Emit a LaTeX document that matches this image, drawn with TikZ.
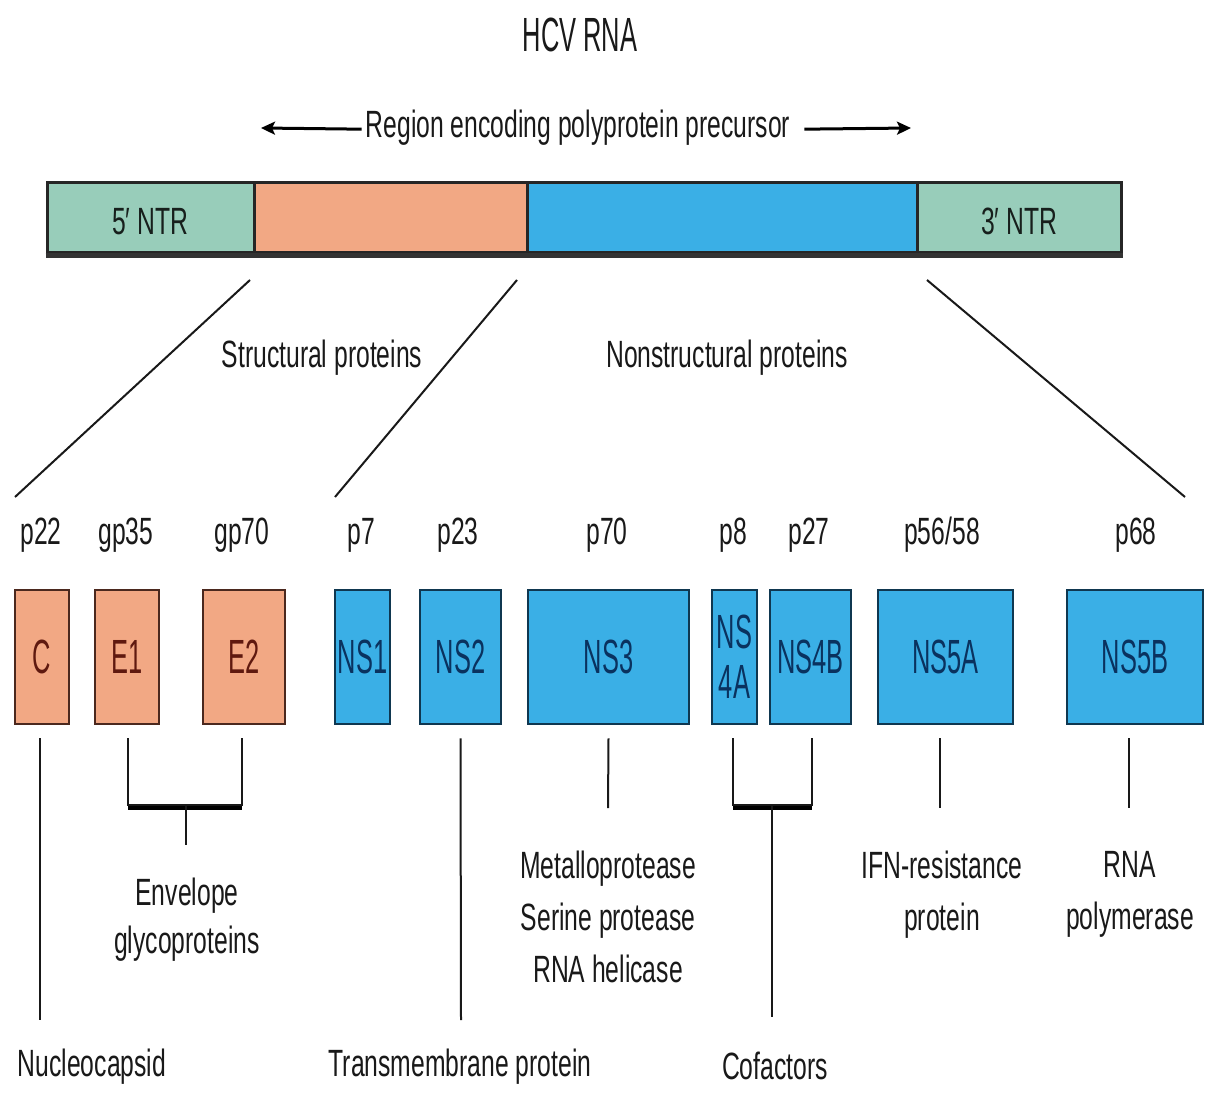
\documentclass[tikz,border=0pt]{standalone}
\usepackage{fontspec}
\setmainfont{Liberation Sans}
\newfontfamily\labf[FakeStretch=0.65]{Liberation Sans}
\newfontfamily\boxf[FakeStretch=0.53]{Liberation Sans}
\usetikzlibrary{arrows.meta}
\definecolor{ntrc}{RGB}{152,205,186}
\definecolor{strc}{RGB}{242,168,132}
\definecolor{nsc}{RGB}{58,175,230}
\definecolor{strdk}{RGB}{75,40,30}
\definecolor{nsdk}{RGB}{15,55,80}
\definecolor{strtx}{RGB}{95,25,15}
\definecolor{nstx}{RGB}{10,50,95}
\definecolor{txt}{RGB}{25,25,25}
\definecolor{shade}{RGB}{110,110,110}
\begin{document}
\begin{tikzpicture}[x=1pt,y=-1pt,
  lab/.style={font=\labf\fontsize{38}{52}\selectfont, text=txt, inner sep=0pt},
  multi/.style={lab, align=center, anchor=north},
  barseg/.style={draw=black!85, line width=3pt, inner sep=0pt},
  sbox/.style={draw=strdk, fill=strc, line width=2.5pt, inner sep=0pt, text=strtx, minimum height=134pt, font=\boxf\fontsize{48}{50}\selectfont, align=center},
  nsbox/.style={draw=nsdk, fill=nsc, line width=2.5pt, inner sep=0pt, text=nstx, minimum height=134pt, font=\boxf\fontsize{48}{50}\selectfont, align=center},
  conn/.style={draw=txt, line width=2pt},
  arr/.style={draw=black, line width=3pt, -{Stealth[length=14pt,width=13pt,inset=3pt]}}
]
\useasboundingbox (0,0) rectangle (1207,1097);
\fill[white] (0,0) rectangle (1207,1097);

% title
\node[font=\boxf\fontsize{48}{50}\selectfont, text=txt, inner sep=0pt, anchor=base] (hcv) at (580,52) {HCV RNA};

% region arrow
\node[lab, anchor=base, inner xsep=4pt] (region) at (578,138) {Region encoding polyprotein precursor};
\coordinate (arrL) at (261,128);
\coordinate (arrR) at (911,128);
\draw[arr] ([yshift=-1pt]region.west) -- (arrL);
\draw[arr] ([xshift=10pt,yshift=-1pt]region.east) -- (arrR);

% genome bar
\node[barseg, fill=ntrc, minimum width=207pt, minimum height=70pt] (ntr5) at (150.5,217) {};
\node[barseg, fill=strc, minimum width=273pt, minimum height=70pt] (sreg) at (390.5,217) {};
\node[barseg, fill=nsc, minimum width=390pt, minimum height=70pt] (nsreg) at (722,217) {};
\node[barseg, fill=ntrc, minimum width=204pt, minimum height=70pt] (ntr3) at (1019,217) {};
\draw[black!80, line width=5pt] ([yshift=-2pt]ntr5.south west) -- ([yshift=-2pt]ntr3.south east);
\node[lab, anchor=base, text=black!85!ntrc] (t5) at (150,234) {5′ NTR};
\node[lab, anchor=base, text=black!85!ntrc] (t3) at (1019,234) {3′ NTR};

% diagonal lines
\coordinate (d1a) at (250,280); \coordinate (d1b) at (15,497);
\coordinate (d2a) at (517,280); \coordinate (d2b) at (335,497);
\coordinate (d3a) at (927,280); \coordinate (d3b) at (1185,497);
\draw[conn] (d1a) -- (d1b);
\draw[conn] (d2a) -- (d2b);
\draw[conn] (d3a) -- (d3b);

\node[lab, anchor=base] (structural) at (322,367) {Structural proteins};
\node[lab, anchor=base] (nonstructural) at (727,367) {Nonstructural proteins};

% size labels
\node[lab, anchor=base] (l1) at (41,544) {p22};
\node[lab, anchor=base] (l2) at (126,544) {gp35};
\node[lab, anchor=base] (l3) at (242,544) {gp70};
\node[lab, anchor=base] (l4) at (361,544) {p7};
\node[lab, anchor=base] (l5) at (458,544) {p23};
\node[lab, anchor=base] (l6) at (607,544) {p70};
\node[lab, anchor=base] (l7) at (733,544) {p8};
\node[lab, anchor=base] (l8) at (809,544) {p27};
\node[lab, anchor=base] (l9) at (942,544) {p56/58};
\node[lab, anchor=base] (l10) at (1136,544) {p68};

% protein boxes
\node[sbox, minimum width=54pt] (C) at (42,657) {C};
\node[sbox, minimum width=64pt] (E1) at (127,657) {E1};
\node[sbox, minimum width=82pt] (E2) at (244,657) {E2};
\node[nsbox, minimum width=55pt] (NS1) at (362.5,657) {NS1};
\node[nsbox, minimum width=81pt] (NS2) at (460.5,657) {NS2};
\node[nsbox, minimum width=161pt] (NS3) at (608.5,657) {NS3};
\node[nsbox, minimum width=45pt] (NS4A) at (734.5,657) {NS\\4A};
\node[nsbox, minimum width=81pt] (NS4B) at (810.5,657) {NS4B};
\node[nsbox, minimum width=135pt] (NS5A) at (945.5,657) {NS5A};
\node[nsbox, minimum width=136pt] (NS5B) at (1135,657) {NS5B};

% connectors below boxes
\coordinate (cEnd) at (40,1020);
\draw[conn] ([xshift=-2pt,yshift=-13pt]C.south) -- (cEnd);

\coordinate (envJ) at (186,805);
\coordinate (envT) at (186,845);
\draw[shade, line width=4pt] (128,808) -- (242,808);
\draw[conn] ([xshift=1pt,yshift=-13pt]E1.south) |- (envJ) -| ([xshift=-2pt,yshift=-13pt]E2.south);
\draw[conn] (envJ) -- (envT);

\coordinate (ns2End) at (461,1020);
\draw[conn] ([yshift=-13pt]NS2.south) -- (ns2End);

\coordinate (ns3End) at (608,808);
\draw[conn] ([yshift=-13pt]NS3.south) -- (ns3End);

\coordinate (cofJ) at (772,805);
\coordinate (cofT) at (772,1017);
\draw[shade, line width=4pt] (733,808) -- (812,808);
\draw[conn] ([xshift=-1.5pt,yshift=-13pt]NS4A.south) |- (cofJ) -| ([xshift=1.5pt,yshift=-13pt]NS4B.south);
\draw[conn] (cofJ) -- (cofT);

\coordinate (ns5aEnd) at (940,808);
\draw[conn] ([xshift=-5.5pt,yshift=-13pt]NS5A.south) -- (ns5aEnd);
\coordinate (ns5bEnd) at (1129,808);
\draw[conn] ([xshift=-6pt,yshift=-13pt]NS5B.south) -- (ns5bEnd);

% function labels
\node[multi, font=\labf\fontsize{38}{48}\selectfont] (env) at (187,878) {Envelope\\glycoproteins};
\node[multi] (ns3f) at (608,851) {Metalloprotease\\Serine protease\\RNA helicase};
\node[multi] (ns5af) at (942,851) {IFN-resistance\\protein};
\node[multi] (ns5bf) at (1130,851) {RNA\\polymerase};
\node[lab, anchor=base] (nuc) at (92,1076) {Nucleocapsid};
\node[lab, anchor=base] (tmp) at (460,1076) {Transmembrane protein};
\node[lab, anchor=base] (cof) at (775,1079) {Cofactors};
\end{tikzpicture}
\end{document}
